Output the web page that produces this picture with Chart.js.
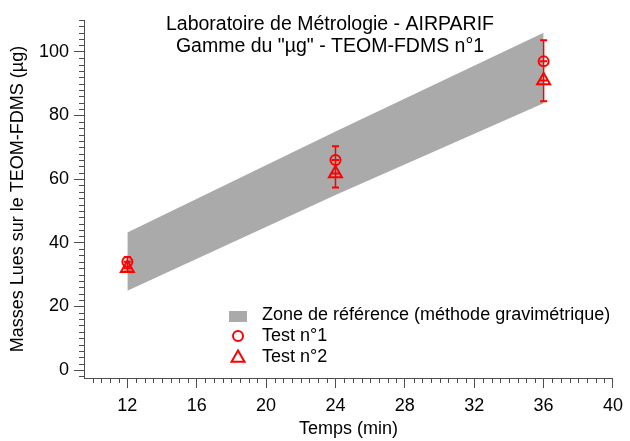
<!DOCTYPE html>
<html>
<head>
<meta charset="utf-8">
<script src="https://cdn.jsdelivr.net/npm/chart.js@4.4.0/dist/chart.umd.min.js"></script>
<style>
  html, body { margin: 0; padding: 0; background: #fff; }
</style>
</head>
<body>
<canvas id="massChart" width="630" height="441"></canvas>
<script>
// valeurs
const times = [12, 24, 36];
const refUpper = [43.2, 75, 106];
const refLower = [24.9, 55, 83.8];
const test1 = [34, 66, 97];
const test2 = [32, 61.8, 91];
const errLow = [31, 57.4, 84.5];
const errHigh = [35.5, 70.3, 103.6];
const xTicks = [12, 16, 20, 24, 28, 32, 36, 40];
const yTicks = [0, 20, 40, 60, 80, 100];
const titleLines = ['Laboratoire de Métrologie - AIRPARIF', 'Gamme du "µg" - TEOM-FDMS n°1'];

const axisColor = '#4d4d4d';
const red = '#ff0000';
const grey = '#aaaaaa';
const fontFamily = '"Liberation Sans", Arial, sans-serif';

Chart.defaults.font.family = fontFamily;
Chart.defaults.font.size = 18;
Chart.defaults.color = '#000';

const toPoints = arr => times.map((t, i) => ({x: t, y: arr[i]}));

// petites graduations
const minorTicks = {
  id: 'minorTicks',
  afterDraw(chart) {
    const {ctx, chartArea, scales: {x, y}} = chart;
    ctx.save();
    ctx.strokeStyle = axisColor;
    ctx.lineWidth = 1;
    ctx.beginPath();
    for (let v = 10; v <= 40; v += 0.5) {
      if (v % 4 === 0) continue;
      const px = Math.round(x.getPixelForValue(v)) + 0.5;
      ctx.moveTo(px, chartArea.bottom);
      ctx.lineTo(px, chartArea.bottom + 5);
    }
    for (let v = -2; v <= 110; v += 2) {
      if (v % 20 === 0) continue;
      const py = Math.round(y.getPixelForValue(v)) + 0.5;
      ctx.moveTo(chartArea.left - 5, py);
      ctx.lineTo(chartArea.left, py);
    }
    ctx.stroke();
    ctx.restore();
  }
};

// barres d'erreur
const errorBars = {
  id: 'errorBars',
  afterDatasetsDraw(chart) {
    const {ctx, scales: {x, y}} = chart;
    ctx.save();
    ctx.strokeStyle = red;
    times.forEach((t, i) => {
      const px = x.getPixelForValue(t);
      const top = y.getPixelForValue(errHigh[i]);
      const bot = y.getPixelForValue(errLow[i]);
      ctx.lineWidth = 1.5;
      ctx.beginPath();
      ctx.moveTo(px, top);
      ctx.lineTo(px, bot);
      ctx.stroke();
      ctx.lineWidth = 2;
      ctx.beginPath();
      [top, bot, y.getPixelForValue(test1[i]), y.getPixelForValue(test2[i])].forEach(py => {
        ctx.moveTo(px - 3.5, py);
        ctx.lineTo(px + 3.5, py);
      });
      ctx.stroke();
    });
    ctx.restore();
  }
};

function drawTriangle(ctx, x, y, r) {
  ctx.beginPath();
  ctx.moveTo(x, y - r);
  ctx.lineTo(x + r * Math.sin(2 * Math.PI / 3), y + r / 2);
  ctx.lineTo(x - r * Math.sin(2 * Math.PI / 3), y + r / 2);
  ctx.closePath();
  ctx.stroke();
}

// titre + legende dans la zone du graphe
const overlayText = {
  id: 'overlayText',
  afterDraw(chart) {
    const {ctx, chartArea} = chart;
    ctx.save();
    ctx.fillStyle = '#000';
    ctx.font = '19.5px ' + fontFamily;
    ctx.textAlign = 'center';
    ctx.textBaseline = 'middle';
    titleLines.forEach((line, i) => ctx.fillText(line, 330, 24.5 + i * 22));

    ctx.font = '18px ' + fontFamily;
    const lx = chartArea.left + 145;
    const ly = chartArea.top + 295;
    ctx.textAlign = 'left';
    const items = chart.data.datasets.filter(d => d.label);
    items.forEach((ds, i) => {
      const cy = ly + i * 21;
      if (ds.fill) {
        ctx.fillStyle = ds.backgroundColor;
        ctx.fillRect(lx, cy - 4, 18, 11);
      } else {
        ctx.strokeStyle = ds.borderColor;
        ctx.lineWidth = ds.pointBorderWidth;
        if (ds.pointStyle === 'triangle') {
          drawTriangle(ctx, lx + 9, cy + 1, ds.pointRadius);
        } else {
          ctx.beginPath();
          ctx.arc(lx + 9, cy, ds.pointRadius, 0, Math.PI * 2);
          ctx.stroke();
        }
      }
      ctx.fillStyle = '#000';
      ctx.fillText(ds.label, lx + 33, cy);
    });
    ctx.restore();
  }
};

new Chart(document.getElementById('massChart'), {
  type: 'line',
  data: {
    datasets: [{
      label: 'Zone de référence (méthode gravimétrique)',
      data: toPoints(refUpper),
      fill: '+1',
      backgroundColor: grey,
      borderColor: 'rgba(0,0,0,0)',
      borderWidth: 0,
      pointRadius: 0,
      tension: 0,
      order: 2
    }, {
      data: toPoints(refLower),
      fill: false,
      borderColor: 'rgba(0,0,0,0)',
      borderWidth: 0,
      pointRadius: 0,
      order: 2
    }, {
      label: 'Test n°1',
      data: toPoints(test1),
      showLine: false,
      pointStyle: 'circle',
      pointRadius: 5,
      pointBorderWidth: 2,
      borderColor: red,
      pointBorderColor: red,
      pointBackgroundColor: 'rgba(0,0,0,0)',
      order: 1
    }, {
      label: 'Test n°2',
      data: toPoints(test2),
      showLine: false,
      pointStyle: 'triangle',
      pointRadius: 7.5,
      pointBorderWidth: 2,
      borderColor: red,
      pointBorderColor: red,
      pointBackgroundColor: 'rgba(0,0,0,0)',
      order: 1
    }]
  },
  options: {
    responsive: false,
    animation: false,
    events: [],
    layout: { padding: { top: 20, right: 12, bottom: 0, left: 0 } },
    plugins: {
      legend: { display: false },
      tooltip: { enabled: false }
    },
    scales: {
      x: {
        type: 'linear',
        min: 9.5,
        max: 40,
        afterBuildTicks: s => { s.ticks = xTicks.map(v => ({value: v})); },
        afterFit: s => { s.height = 63; },
        grid: { drawOnChartArea: false, tickLength: 10, color: axisColor },
        border: { color: axisColor },
        ticks: { padding: 7, maxRotation: 0, autoSkip: false },
        title: { display: true, text: 'Temps (min)', padding: { top: 0, bottom: 1 } }
      },
      y: {
        type: 'linear',
        min: -2.5,
        max: 110,
        afterBuildTicks: s => { s.ticks = yTicks.map(v => ({value: v})); },
        afterFit: s => { s.width = 84; },
        grid: { drawOnChartArea: false, tickLength: 10, color: axisColor },
        border: { color: axisColor },
        ticks: { padding: 5 },
        title: { display: true, text: 'Masses Lues sur le TEOM-FDMS (µg)', padding: { top: 7, bottom: 0 } }
      }
    }
  },
  plugins: [minorTicks, errorBars, overlayText]
});
</script>
</body>
</html>
